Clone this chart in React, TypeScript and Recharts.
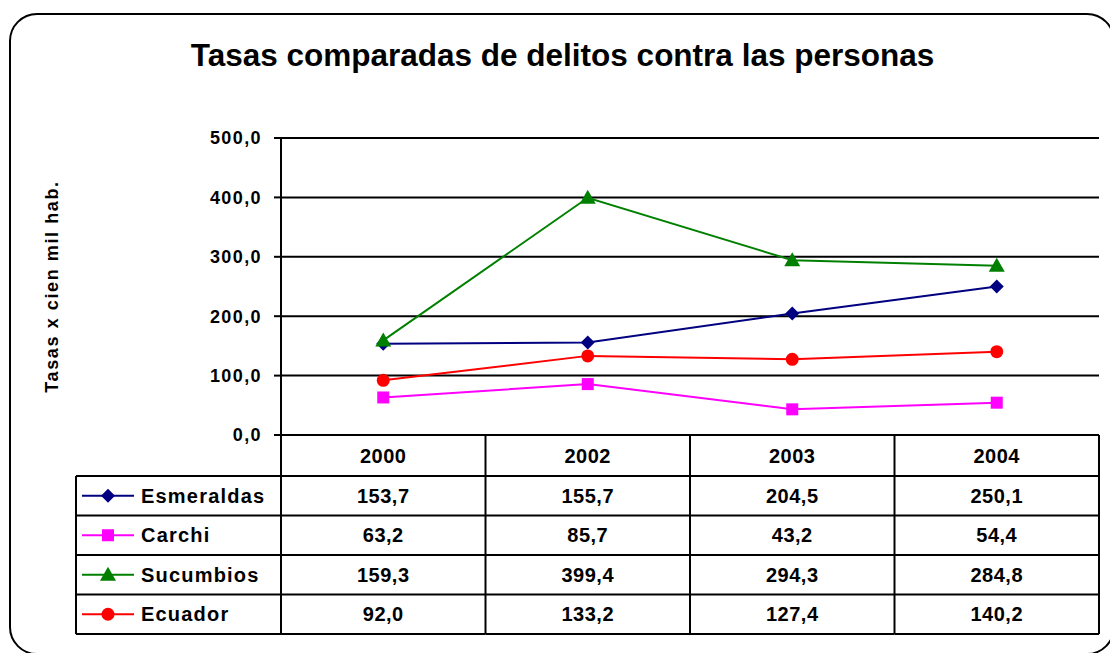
import React from "react";
import { CartesianGrid, Line, LineChart, XAxis, YAxis } from "recharts";

const years = ["2000", "2002", "2003", "2004"];
const esmeraldas = [153.7, 155.7, 204.5, 250.1];
const carchi = [63.2, 85.7, 43.2, 54.4];
const sucumbios = [159.3, 399.4, 294.3, 284.8];
const ecuador = [92.0, 133.2, 127.4, 140.2];
const yTicks = [0, 100, 200, 300, 400, 500];

const series = [
  { key: "esmeraldas", name: "Esmeraldas", color: "#000080", shape: "diamond", values: esmeraldas },
  { key: "carchi", name: "Carchi", color: "#FF00FF", shape: "square", values: carchi },
  { key: "sucumbios", name: "Sucumbios", color: "#008000", shape: "triangle", values: sucumbios },
  { key: "ecuador", name: "Ecuador", color: "#FF0000", shape: "circle", values: ecuador },
];

const data = years.map((year, i) => {
  const row: Record<string, string | number> = { year };
  series.forEach((s) => (row[s.key] = s.values[i]));
  return row;
});

// layout
const W = 1110;
const H = 653;
const PLOT_LEFT = 281;
const PLOT_RIGHT = 1099;
const PLOT_TOP = 138;
const PLOT_BOTTOM = 435;
const Y_AXIS_W = 80;
const BAND = (PLOT_RIGHT - PLOT_LEFT) / years.length;
const HEADER_H = 41;
const ROW_H = 39.5;
const TABLE_LEFT = 76;
const FONT = "'Liberation Sans', Arial, sans-serif";

const fmt = (v: number) => v.toFixed(1).replace(".", ",");

function Marker({ shape, cx, cy, color }: { shape: string; cx: number; cy: number; color: string }) {
  if (shape === "diamond") {
    const r = 7;
    return <path d={`M${cx},${cy - r}L${cx + r},${cy}L${cx},${cy + r}L${cx - r},${cy}Z`} fill={color} />;
  }
  if (shape === "square") return <rect x={cx - 6} y={cy - 6} width={12} height={12} fill={color} />;
  if (shape === "triangle") return <path d={`M${cx},${cy - 8}L${cx + 8},${cy + 6}L${cx - 8},${cy + 6}Z`} fill={color} />;
  return <circle cx={cx} cy={cy} r={6.5} fill={color} />;
}

function TableTick(props: any) {
  const { x, payload, index } = props;
  const half = BAND / 2;
  const rowsTop = PLOT_BOTTOM + HEADER_H;
  const bottom = rowsTop + ROW_H * series.length;
  const textStyle = { fontFamily: FONT, fontWeight: 700, fontSize: 20, letterSpacing: 0.5, fill: "#000" };
  return (
    <g>
      <line x1={x + half} x2={x + half} y1={PLOT_BOTTOM} y2={bottom} stroke="#000" strokeWidth={2} />
      {index === 0 && <line x1={x - half} x2={x - half} y1={PLOT_BOTTOM} y2={bottom} stroke="#000" strokeWidth={2} />}
      <text x={x} y={PLOT_BOTTOM + HEADER_H / 2} textAnchor="middle" dominantBaseline="central" style={textStyle}>
        {payload.value}
      </text>
      {series.map((s, r) => (
        <g key={s.key}>
          <line x1={x - half} x2={x + half} y1={rowsTop + r * ROW_H} y2={rowsTop + r * ROW_H} stroke="#000" strokeWidth={2} />
          <text x={x} y={rowsTop + r * ROW_H + ROW_H / 2} textAnchor="middle" dominantBaseline="central" style={textStyle}>
            {fmt(s.values[index])}
          </text>
        </g>
      ))}
      <line x1={x - half} x2={x + half} y1={bottom} y2={bottom} stroke="#000" strokeWidth={2} />
      {index === 0 && (
        <g>
          <line x1={TABLE_LEFT} x2={TABLE_LEFT} y1={rowsTop} y2={bottom} stroke="#000" strokeWidth={2} />
          <line x1={TABLE_LEFT} x2={x - half} y1={bottom} y2={bottom} stroke="#000" strokeWidth={2} />
          {series.map((s, r) => {
            const cy = rowsTop + r * ROW_H + ROW_H / 2;
            return (
              <g key={s.key}>
                <line x1={TABLE_LEFT} x2={x - half} y1={rowsTop + r * ROW_H} y2={rowsTop + r * ROW_H} stroke="#000" strokeWidth={2} />
                <line x1={TABLE_LEFT + 6} x2={TABLE_LEFT + 58} y1={cy} y2={cy} stroke={s.color} strokeWidth={2} />
                <Marker shape={s.shape} cx={TABLE_LEFT + 32} cy={cy} color={s.color} />
                <text x={TABLE_LEFT + 65} y={cy} dominantBaseline="central" style={{ ...textStyle, letterSpacing: 1.2 }}>
                  {s.name}
                </text>
              </g>
            );
          })}
        </g>
      )}
    </g>
  );
}

export default function App() {
  return (
    <div style={{ position: "absolute", left: 0, top: 0, width: W, height: H, overflow: "hidden", background: "#fff" }}>
      <div
        style={{
          position: "absolute",
          left: 9,
          top: 13,
          width: 1102,
          height: 638,
          border: "2px solid #000",
          borderRadius: 28,
        }}
      />
      <div
        style={{
          position: "absolute",
          left: 0,
          top: 37,
          width: 1125,
          textAlign: "center",
          fontFamily: FONT,
          fontWeight: 700,
          fontSize: 31.5,
          lineHeight: "36px",
        }}
      >
        Tasas comparadas de delitos contra las personas
      </div>
      <div style={{ position: "absolute", left: 0, top: 0 }}>
        <LineChart
          width={W}
          height={H}
          data={data}
          margin={{ top: PLOT_TOP, right: W - PLOT_RIGHT, bottom: 18, left: PLOT_LEFT - Y_AXIS_W }}
        >
          <CartesianGrid vertical={false} stroke="#000" strokeWidth={2} />
          <XAxis
            dataKey="year"
            height={H - 18 - PLOT_BOTTOM}
            interval={0}
            padding={{ left: BAND / 2, right: BAND / 2 }}
            tickLine={false}
            axisLine={{ stroke: "#000", strokeWidth: 2 }}
            tick={<TableTick />}
          />
          <YAxis
            width={Y_AXIS_W}
            domain={[0, 500]}
            ticks={yTicks}
            tickFormatter={fmt}
            tickSize={7}
            tickMargin={12}
            axisLine={{ stroke: "#000", strokeWidth: 2 }}
            tickLine={{ stroke: "#000", strokeWidth: 2 }}
            tick={{ fill: "#000", fontFamily: FONT, fontWeight: 700, fontSize: 18, letterSpacing: 1.4 }}
            label={{
              content: (p: any) => (
                <text
                  x={52}
                  y={p.viewBox.y + p.viewBox.height / 2}
                  transform={`rotate(-90 52 ${p.viewBox.y + p.viewBox.height / 2})`}
                  textAnchor="middle"
                  dominantBaseline="central"
                  style={{ fontFamily: FONT, fontWeight: 700, fontSize: 18, letterSpacing: 1.6, fill: "#000" }}
                >
                  Tasas x cien mil hab.
                </text>
              ),
            }}
          />
          {series.map((s) => (
            <Line
              key={s.key}
              dataKey={s.key}
              name={s.name}
              type="linear"
              stroke={s.color}
              strokeWidth={2}
              isAnimationActive={false}
              dot={(p: any) => <Marker key={`${s.key}-${p.index}`} shape={s.shape} cx={p.cx} cy={p.cy} color={s.color} />}
              activeDot={false}
            />
          ))}
        </LineChart>
      </div>
    </div>
  );
}
